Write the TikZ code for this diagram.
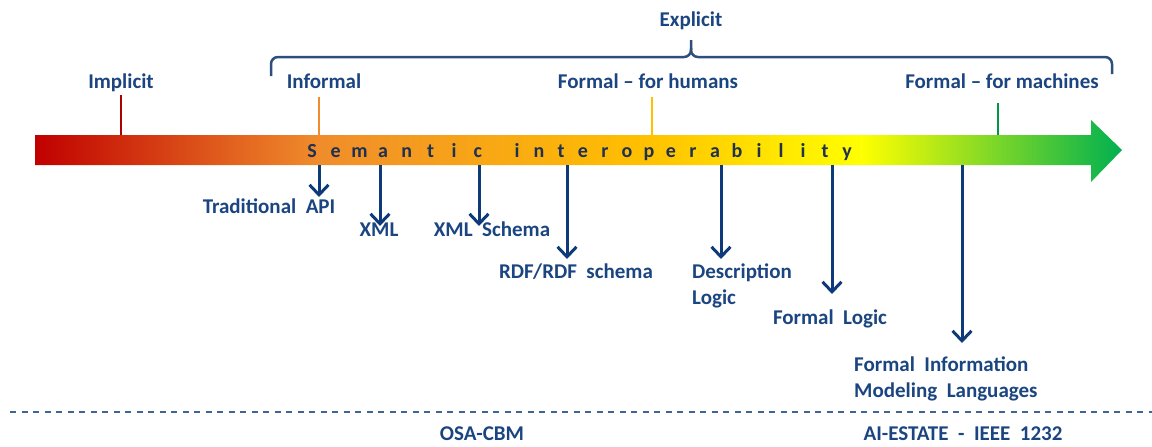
\documentclass[tikz,border=0pt]{standalone}
\usepackage{fontspec}
\setmainfont{Carlito}
\usetikzlibrary{arrows.meta}
\definecolor{txt}{HTML}{1B4580}
\definecolor{arr}{HTML}{0E3A7A}
\definecolor{semc}{HTML}{1F3050}
\definecolor{brc}{HTML}{2E4E7E}
\definecolor{dsh}{HTML}{3F6596}
\definecolor{gA}{HTML}{C00000}
\definecolor{gB}{HTML}{F08C2C}
\definecolor{gC}{HTML}{FFC000}
\definecolor{gD}{HTML}{FFFF00}
\definecolor{gE}{HTML}{00B050}
\pgfdeclarehorizontalshading{semgrad}{100bp}{color(0bp)=(gA); color(25bp)=(gA); color(38bp)=(gB); color(53bp)=(gC); color(63bp)=(gD); color(75bp)=(gE); color(100bp)=(gE)}
\tikzset{
  lbl/.style={font=\fontsize{21}{26}\selectfont\bfseries, text=txt, inner sep=0pt, anchor=base},
  lblw/.style={lbl, anchor=base west, align=left},
  sem/.style={font=\fontsize{20}{24}\selectfont\bfseries, text=semc, inner sep=0pt, anchor=base},
  downarr/.style={draw=arr, line width=3pt, -{Straight Barb[length=10pt,width=19pt,line width=3pt]}},
  tick/.style={line width=2.5pt},
}
\begin{document}
\begin{tikzpicture}[x=1pt,y=-1pt]
\useasboundingbox (0,0) rectangle (1152,447);
% gradient arrow
\path[shading=semgrad] (35,135) -- (1091,135) -- (1091,120) -- (1122,150) -- (1091,182) -- (1091,165) -- (35,165) -- cycle;
% ticks
\coordinate (t1a) at (121,95); \coordinate (t1b) at (121,135);
\coordinate (t2a) at (319,97); \coordinate (t2b) at (319,135);
\coordinate (t3a) at (652,97); \coordinate (t3b) at (652,135);
\coordinate (t4a) at (998,103); \coordinate (t4b) at (998,135);
\draw[tick, draw=gA!90!black] (t1a) -- (t1b);
\draw[tick, draw=gB] (t2a) -- (t2b);
\draw[tick, draw=gC] (t3a) -- (t3b);
\draw[tick, draw=gE!85!black] (t4a) -- (t4b);
% top labels
\node[lbl] (implicit) at (121,88) {Implicit};
\node[lbl] (informal) at (324,88) {Informal};
\node[lbl] (fhum) at (648,88) {Formal -- for humans};
\node[lbl] (fmach) at (1002,88) {Formal -- for machines};
\node[lbl] (explicit) at (691,27) {Explicit};
% brace
\coordinate (bl) at (271,76); \coordinate (bm) at (691,40); \coordinate (br) at (1112,74);
\draw[brc, line width=2.5pt, rounded corners=7pt] (bl) -- (271,57) -- (691,57) -- (bm);
\draw[brc, line width=2.5pt, rounded corners=7pt] (691,48) -- (691,57) -- (1112,57) -- (br);
% semantic interoperability letters
\foreach \c [count=\i from 0] in {S,e,m,a,n,t,i,c}
  \node[sem] (sa\i) at ({312+\i*23.7},157) {\c};
\foreach \c [count=\i from 0] in {i,n,t,e,r,o,p,e,r,a,b,i,l,i,t,y}
  \node[sem] (sb\i) at ({517+\i*22},157) {\c};
% down arrows
\coordinate (a1) at (319,165); \coordinate (e1) at (319,197);
\coordinate (a2) at (380,165); \coordinate (e2) at (380,226);
\coordinate (a3) at (479,165); \coordinate (e3) at (479,226);
\coordinate (a4) at (567,165); \coordinate (e4) at (567,259);
\coordinate (a5) at (721,165); \coordinate (e5) at (721,259);
\coordinate (a6) at (832,165); \coordinate (e6) at (832,294);
\coordinate (a7) at (962,165); \coordinate (e7) at (962,343);
\foreach \k in {1,...,7} \draw[downarr] (a\k) -- (e\k);
% lower labels
\node[lbl] (tapi) at (269,213) {Traditional~ API};
\node[lbl] (xml) at (379,236) {XML};
\node[lbl] (xmls) at (492,236) {XML~ Schema};
\node[lbl] (rdf) at (576,278) {RDF/RDF~ schema};
\node[lblw] (dl) at (692,304) {Description\\Logic};
\node[lbl] (fl) at (830,324) {Formal~ Logic};
\node[lblw] (fiml) at (854,397) {Formal~ Information\\Modeling~ Languages};
% dashed separator
\coordinate (d1) at (10,412); \coordinate (d2) at (1152,412);
\draw[dsh, line width=2pt, dash pattern=on 6pt off 5.5pt] (d1) -- (d2);
\node[lbl] (osa) at (482,440) {OSA-CBM};
\node[lbl] (aie) at (963,440) {AI-ESTATE~ -~ IEEE~ 1232};
\end{tikzpicture}
\end{document}
